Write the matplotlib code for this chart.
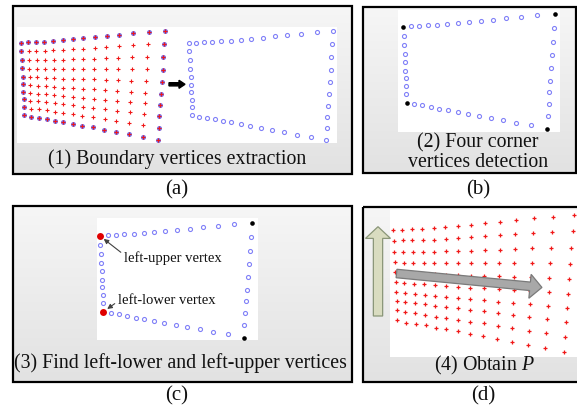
import matplotlib
matplotlib.use("Agg")
import matplotlib.pyplot as plt
import numpy as np
from matplotlib.patches import Rectangle, FancyArrow
from matplotlib.colors import LinearSegmentedColormap

plt.rcParams["mathtext.fontset"] = "custom"
plt.rcParams["mathtext.rm"] = "Liberation Serif"
plt.rcParams["mathtext.it"] = "Liberation Serif:italic"

# ---- grid of vertices (1) (pixel coords) ----
col_top_x = [21.0, 28.3, 36.0, 44.3, 53.3, 62.7, 72.7, 83.3, 94.7, 106.7, 119.0, 133.3, 148.7, 165.3]
col_top_y = [42.7, 42.3, 42.0, 41.5, 41.0, 40.3, 39.3, 38.3, 37.3, 36.0, 34.7, 33.3, 32.0, 31.0]
col_bot_x = [24.3, 31.0, 39.0, 47.0, 55.0, 63.3, 72.7, 82.3, 93.0, 104.3, 116.0, 128.7, 142.7, 157.7]
col_bot_y = [115.0, 116.7, 117.7, 119.0, 120.7, 122.0, 123.7, 125.7, 127.3, 129.7, 132.0, 134.3, 136.7, 140.0]
row_frac = [0.0, 0.117, 0.238, 0.355, 0.468, 0.578, 0.682, 0.784, 0.89, 1.0]

captions = ["(1) Boundary vertices extraction", "(2) Four corner\nvertices detection",
            "(3) Find left-lower and left-upper vertices", "(4) Obtain $\\mathit{P}$"]
sublabels = ["(a)", "(b)", "(c)", "(d)"]
notes = ["left-upper vertex", "left-lower vertex"]

SERIF = ["Liberation Serif", "DejaVu Serif"]
BLUE = "#8080f8"
RED = "#f01818"
PURPLE = "#7c64d8"

tx, ty = np.array(col_top_x), np.array(col_top_y)
bx, by = np.array(col_bot_x), np.array(col_bot_y)
f = np.array(row_frac)[:, None]
GX = tx[None, :] + f * (bx - tx)[None, :]
GY = ty[None, :] + f * (by - ty)[None, :]
nr, nc = GX.shape
rr, cc = np.meshgrid(np.arange(nr), np.arange(nc), indexing="ij")
bmask = (rr == 0) | (rr == nr - 1) | (cc == 0) | (cc == nc - 1)
cmask = ((rr == 0) | (rr == nr - 1)) & ((cc == 0) | (cc == nc - 1))


def place(x0, y0, s):
    return x0 + s * (GX - GX[0, 0]), y0 + s * (GY - GY[0, 0])


W, H = 577, 413
fig = plt.figure(figsize=(W / 100, H / 100), dpi=100)
ax = fig.add_axes([0, 0, 1, 1])

grad = np.linspace(0, 1, 64)[:, None]
gcm = LinearSegmentedColormap.from_list("g", ["#f6f6f6", "#e2e2e2"])


def panel(l, t, r, b, wl, wt, wr, wb):
    ax.imshow(grad, extent=(l, r, b, t), cmap=gcm, aspect="auto", zorder=0)
    ax.add_patch(Rectangle((wl, wt), wr - wl, wb - wt, facecolor="white", edgecolor="none", zorder=1))
    ax.add_patch(Rectangle((l, t), r - l, b - t, fill=False, edgecolor="black", lw=1.6, zorder=10))


panel(12.7, 5.7, 351.7, 174.0, 17, 27, 337, 143)
panel(363.3, 7.3, 576.0, 173.3, 398, 10, 560, 132)
panel(12.7, 205.7, 352.3, 381.7, 96.7, 218, 258.3, 340)
panel(363.3, 207.3, 585.0, 381.7, 390, 210, 585, 357)

CIRC = dict(mfc="none", mec=BLUE, ms=2.9, mew=0.8, zorder=3)

# ---- panel (1) ----
ax.plot(GX[~bmask], GY[~bmask], "+", color=RED, ms=3.0, mew=0.8, zorder=3)
ax.plot(GX[bmask], GY[bmask], "o", color=PURPLE, ms=3.6, mew=0, zorder=3)
ax.plot(GX[bmask], GY[bmask], "+", color=RED, ms=2.6, mew=0.7, zorder=4)
X2, Y2 = place(189.0, 43.0, 1.0)
ax.plot(X2[bmask], Y2[bmask], "o", **CIRC)
ax.add_patch(FancyArrow(169, 84.3, 10, 0, width=3.2, head_width=8, head_length=6,
                        length_includes_head=False, color="black", zorder=5))

# ---- panel (2) ----
X3, Y3 = place(403.3, 26.7, 1.05)
m = bmask & ~cmask
ax.plot(X3[m], Y3[m], "o", **CIRC)
ax.plot(X3[cmask], Y3[cmask], "o", color="black", ms=3.3, mew=0, zorder=3)

# ---- panel (3) ----
X4, Y4 = place(100.0, 235.7, 1.05)
ax.plot(X4[m], Y4[m], "o", **CIRC)
ax.plot([X4[0, -1], X4[-1, -1]], [Y4[0, -1], Y4[-1, -1]], "o", color="black", ms=3.3, mew=0, zorder=3)
ax.plot([X4[0, 0], X4[-1, 0]], [Y4[0, 0], Y4[-1, 0]], "o", color="#e00000", ms=5.0, mew=0, zorder=4)
ax.annotate("", xy=(X4[0, 0] + 1.5, Y4[0, 0] + 1.5), xytext=(123, 254),
            arrowprops=dict(arrowstyle="-|>", color="#404040", lw=0.8, mutation_scale=7), zorder=5)
ax.text(124, 258.5, notes[0], fontfamily=SERIF, fontsize=10.5, va="center", ha="left", color="#111111", zorder=6)
ax.annotate("", xy=(X4[-1, 0] + 1.5, Y4[-1, 0] - 1), xytext=(117, 302),
            arrowprops=dict(arrowstyle="-|>", color="#404040", lw=0.8, mutation_scale=7), zorder=5)
ax.text(118.5, 300, notes[1], fontfamily=SERIF, fontsize=10.5, va="center", ha="left", color="#111111", zorder=6)

# ---- panel (4) ----
X5, Y5 = place(393.3, 230.0, 1.25)
ax.plot(X5.ravel(), Y5.ravel(), "+", color=RED, ms=3.4, mew=0.9, zorder=3)
ax.add_patch(FancyArrow(378, 316, 0, -77.6, width=9.3, head_width=25, head_length=11.7,
                        length_includes_head=False, facecolor="#d9dcc0", edgecolor="#8a9678", lw=0.9, zorder=5))
ax.add_patch(FancyArrow(396.5, 273.5, 133.5, 12.8, width=8.5, head_width=24, head_length=12,
                        length_includes_head=False, facecolor="#a8a8a8", edgecolor="#7a7a7a", lw=0.9, zorder=5))

# ---- captions ----
cap_kw = dict(fontfamily=SERIF, fontsize=14.3, ha="center", va="center", color="#111111", zorder=11)
ax.text(177, 159.5, captions[0], **cap_kw)
ax.text(478, 152.5, captions[1], linespacing=1.0, **cap_kw)
ax.text(180, 363.5, captions[2], **cap_kw)
ax.text(484, 365, captions[3], **cap_kw)

lab_kw = dict(fontfamily=SERIF, fontsize=15, ha="center", va="center", color="#111111")
ax.text(177, 190, sublabels[0], **lab_kw)
ax.text(478, 190, sublabels[1], **lab_kw)
ax.text(177, 396, sublabels[2], **lab_kw)
ax.text(483, 396, sublabels[3], **lab_kw)

ax.set_xlim(0, W)
ax.set_ylim(H, 0)
ax.axis("off")
fig.savefig("out.png", dpi=100, facecolor="white")
